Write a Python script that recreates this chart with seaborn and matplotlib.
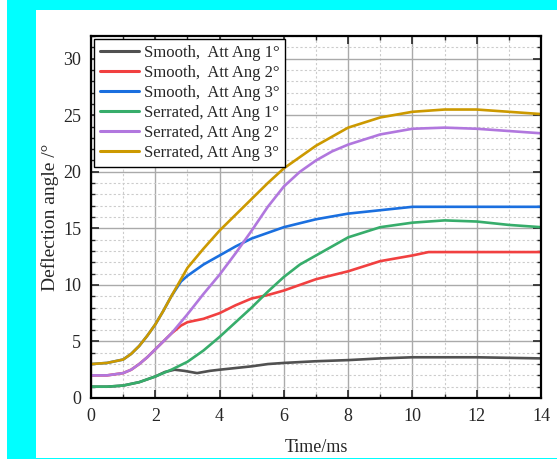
import numpy as np
import pandas as pd
import matplotlib
matplotlib.use("Agg")
import matplotlib.pyplot as plt
from matplotlib.patches import Rectangle
from matplotlib.ticker import MultipleLocator
import seaborn as sns

labels = ["Smooth,  Att Ang 1°", "Smooth,  Att Ang 2°", "Smooth,  Att Ang 3°",
          "Serrated, Att Ang 1°", "Serrated, Att Ang 2°", "Serrated, Att Ang 3°"]
colors = ["#515151", "#F14040", "#1A6FDF", "#37AD6B", "#B177DE", "#CC9900"]

t_s1 = [0, 0.5, 1, 1.5, 2, 2.3, 2.6, 2.9, 3.3, 3.7, 4, 4.5, 5, 5.5, 6, 7, 8, 9, 10, 11, 12, 13, 14]
v_s1 = [1.0, 1.0, 1.1, 1.4, 1.9, 2.3, 2.5, 2.4, 2.2, 2.4, 2.5, 2.65, 2.8, 3.0, 3.1, 3.25, 3.35, 3.5, 3.6, 3.6, 3.6, 3.55, 3.5]

t_s2 = [0, 0.5, 1, 1.25, 1.5, 1.75, 2, 2.25, 2.5, 2.8, 3, 3.5, 4, 4.5, 5, 5.5, 6, 7, 8, 9, 10, 10.5, 11, 12, 13, 14]
v_s2 = [2.0, 2.0, 2.2, 2.5, 3.0, 3.6, 4.3, 5.0, 5.7, 6.4, 6.7, 7.0, 7.5, 8.2, 8.8, 9.1, 9.5, 10.5, 11.2, 12.1, 12.6, 12.9, 12.9, 12.9, 12.9, 12.9]

t_s3 = [0, 0.5, 1, 1.25, 1.5, 1.75, 2, 2.25, 2.5, 2.8, 3, 3.5, 4, 4.5, 5, 5.5, 6, 7, 8, 9, 10, 11, 12, 13, 14]
v_s3 = [3.0, 3.1, 3.4, 3.9, 4.6, 5.5, 6.5, 7.7, 9.0, 10.3, 10.8, 11.8, 12.6, 13.4, 14.1, 14.6, 15.1, 15.8, 16.3, 16.6, 16.9, 16.9, 16.9, 16.9, 16.9]

t_r1 = [0, 0.5, 1, 1.5, 2, 2.5, 3, 3.5, 4, 4.5, 5, 5.5, 6, 6.5, 7, 7.5, 8, 9, 10, 11, 12, 13, 14]
v_r1 = [1.0, 1.0, 1.1, 1.4, 1.9, 2.5, 3.2, 4.2, 5.4, 6.7, 8.0, 9.4, 10.7, 11.8, 12.6, 13.4, 14.2, 15.1, 15.5, 15.7, 15.6, 15.3, 15.1]

t_r2 = [0, 0.5, 1, 1.25, 1.5, 1.75, 2, 2.25, 2.5, 3, 3.5, 4, 4.5, 5, 5.5, 6, 6.5, 7, 7.5, 8, 9, 10, 11, 12, 13, 14]
v_r2 = [2.0, 2.0, 2.2, 2.5, 3.0, 3.6, 4.3, 5.0, 5.7, 7.4, 9.2, 10.9, 12.8, 14.8, 16.9, 18.7, 20.0, 21.0, 21.8, 22.4, 23.3, 23.8, 23.9, 23.8, 23.6, 23.4]

t_r3 = [0, 0.5, 1, 1.25, 1.5, 1.75, 2, 2.25, 2.5, 2.8, 3, 3.5, 4, 4.5, 5, 5.5, 6, 7, 8, 9, 10, 11, 12, 13, 14]
v_r3 = [3.0, 3.1, 3.4, 3.9, 4.6, 5.5, 6.5, 7.7, 9.0, 10.5, 11.5, 13.2, 14.8, 16.2, 17.6, 19.0, 20.3, 22.3, 23.9, 24.8, 25.3, 25.5, 25.5, 25.3, 25.1]

series_t = [t_s1, t_s2, t_s3, t_r1, t_r2, t_r3]
series_v = [v_s1, v_s2, v_s3, v_r1, v_r2, v_r3]

rows = []
for lab, tt, vv in zip(labels, series_t, series_v):
    for a, b in zip(tt, vv):
        rows.append({"Time": a, "Angle": b, "Series": lab})
df = pd.DataFrame(rows)

sns.set_style("white")
plt.rcParams['font.family'] = ['Liberation Serif', 'DejaVu Serif']

fig = plt.figure(figsize=(5.57, 4.59), dpi=100, facecolor="white")
W, H = 557.0, 459.0
fig.patches.append(Rectangle((7 / W, 0), 1 - 7 / W, 1, transform=fig.transFigure,
                             facecolor="#00FFFF", edgecolor="none", zorder=-10))
fig.patches.append(Rectangle((36 / W, 1.5 / H), 1 - 36 / W, (H - 10 - 1.5) / H,
                             transform=fig.transFigure, facecolor="white",
                             edgecolor="none", zorder=-9))

ax = fig.add_axes([91 / W, 61 / H, 450 / W, 362 / H])
ax.set_facecolor("white")

sns.lineplot(data=df, x="Time", y="Angle", hue="Series", hue_order=labels,
             palette=colors, estimator=None, sort=True, linewidth=1.9, ax=ax)

ax.set_xlim(0, 14)
ax.set_ylim(0, 32)
ax.xaxis.set_major_locator(MultipleLocator(2))
ax.xaxis.set_minor_locator(MultipleLocator(1))
ax.yaxis.set_major_locator(MultipleLocator(5))
ax.yaxis.set_minor_locator(MultipleLocator(1))

ax.grid(which="major", color="#aaaaaa", linestyle="-", linewidth=1.0)
ax.grid(which="minor", color="#cccccc", linestyle=(0, (2, 2)), linewidth=0.8)
ax.set_axisbelow(True)

ax.tick_params(which="major", direction="in", length=6, width=1.2, labelsize=13,
               pad=7, top=True, right=True, bottom=True, left=True)
ax.tick_params(which="minor", direction="in", length=3, width=1.0,
               top=True, right=True, bottom=True, left=True)
for s in ax.spines.values():
    s.set_color("black")
    s.set_linewidth(1.6)

ax.set_xlabel("Time/ms", fontsize=13, labelpad=10)
ax.set_ylabel("Deflection angle /°", fontsize=14, labelpad=3)

handles, labs = ax.get_legend_handles_labels()
leg = ax.legend(handles, labs, loc="upper left", fontsize=12, frameon=True,
                fancybox=False, edgecolor="black", framealpha=1,
                borderpad=0.35, labelspacing=0.24, handlelength=2.3,
                handletextpad=0.3, borderaxespad=0.2)
leg.get_frame().set_linewidth(1.0)
for line in leg.get_lines():
    line.set_linewidth(2.2)

fig.savefig("out.png", dpi=100, facecolor=fig.get_facecolor())
